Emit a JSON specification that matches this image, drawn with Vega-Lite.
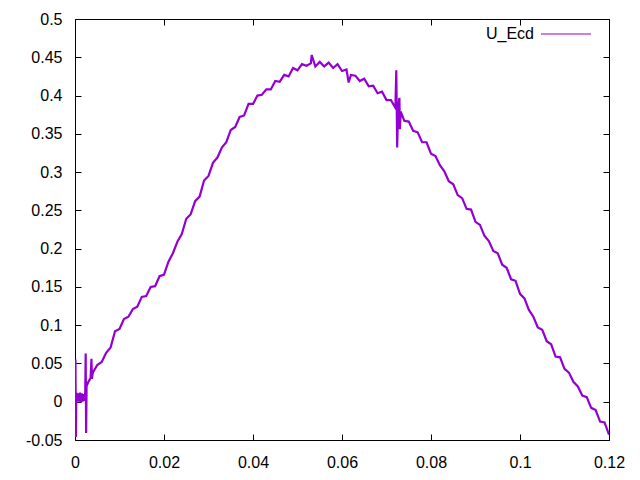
{
  "$schema": "https://vega.github.io/schema/vega-lite/v6.json",
  "width": 534,
  "height": 421,
  "autosize": {"type": "none"},
  "padding": {"left": 75, "top": 19, "right": 31, "bottom": 40},
  "background": "white",
  "config": {
    "view": {"stroke": "black", "strokeWidth": 1},
    "font": "Liberation Sans",
    "axis": {
      "domain": false,
      "grid": false,
      "ticks": true,
      "tickColor": "black",
      "tickSize": -6,
      "labelFontSize": 16,
      "labelColor": "black",
      "labelFont": "Liberation Sans",
      "labelFlush": false,
      "labelOverlap": false,
      "title": null
    }
  },
  "data": {
    "values": [
      {"x": 0.0001, "y": 0.055}, {"x": 0.0002, "y": -0.046}, {"x": 0.0003, "y": 0.012}, {"x": 0.0005, "y": 0.0},
      {"x": 0.0007, "y": 0.011}, {"x": 0.0009, "y": 0.0}, {"x": 0.0011, "y": 0.012}, {"x": 0.0013, "y": -0.001},
      {"x": 0.0015, "y": 0.011}, {"x": 0.0017, "y": 0.0}, {"x": 0.0019, "y": 0.01}, {"x": 0.0021, "y": 0.001},
      {"x": 0.0023, "y": 0.012}, {"x": 0.0024, "y": 0.063}, {"x": 0.0025, "y": -0.041}, {"x": 0.0026, "y": 0.02},
      {"x": 0.003, "y": 0.026}, {"x": 0.0035, "y": 0.031}, {"x": 0.0037, "y": 0.056}, {"x": 0.0038, "y": 0.03},
      {"x": 0.004, "y": 0.038},
      {"x": 0.005, "y": 0.048}, {"x": 0.006, "y": 0.052}, {"x": 0.007, "y": 0.064}, {"x": 0.008, "y": 0.071},
      {"x": 0.009, "y": 0.092}, {"x": 0.010, "y": 0.095}, {"x": 0.011, "y": 0.108}, {"x": 0.012, "y": 0.111},
      {"x": 0.013, "y": 0.121}, {"x": 0.014, "y": 0.124}, {"x": 0.015, "y": 0.137}, {"x": 0.016, "y": 0.138},
      {"x": 0.017, "y": 0.150}, {"x": 0.018, "y": 0.151}, {"x": 0.019, "y": 0.164}, {"x": 0.020, "y": 0.166},
      {"x": 0.021, "y": 0.183}, {"x": 0.022, "y": 0.194}, {"x": 0.023, "y": 0.209}, {"x": 0.024, "y": 0.219},
      {"x": 0.025, "y": 0.239}, {"x": 0.026, "y": 0.245}, {"x": 0.027, "y": 0.262}, {"x": 0.028, "y": 0.268},
      {"x": 0.029, "y": 0.289}, {"x": 0.030, "y": 0.295}, {"x": 0.031, "y": 0.312}, {"x": 0.032, "y": 0.319},
      {"x": 0.033, "y": 0.332}, {"x": 0.034, "y": 0.339}, {"x": 0.035, "y": 0.355}, {"x": 0.036, "y": 0.359},
      {"x": 0.037, "y": 0.372}, {"x": 0.038, "y": 0.374}, {"x": 0.039, "y": 0.389}, {"x": 0.040, "y": 0.389},
      {"x": 0.041, "y": 0.400}, {"x": 0.042, "y": 0.401}, {"x": 0.043, "y": 0.408}, {"x": 0.044, "y": 0.408},
      {"x": 0.045, "y": 0.419}, {"x": 0.046, "y": 0.418}, {"x": 0.047, "y": 0.427}, {"x": 0.048, "y": 0.425},
      {"x": 0.049, "y": 0.436}, {"x": 0.050, "y": 0.433}, {"x": 0.051, "y": 0.441}, {"x": 0.052, "y": 0.439},
      {"x": 0.053, "y": 0.442}, {"x": 0.0532, "y": 0.453}, {"x": 0.054, "y": 0.438}, {"x": 0.055, "y": 0.444},
      {"x": 0.056, "y": 0.438}, {"x": 0.057, "y": 0.443}, {"x": 0.058, "y": 0.436}, {"x": 0.059, "y": 0.441},
      {"x": 0.060, "y": 0.432}, {"x": 0.061, "y": 0.434}, {"x": 0.0615, "y": 0.417}, {"x": 0.062, "y": 0.427},
      {"x": 0.063, "y": 0.426}, {"x": 0.064, "y": 0.419}, {"x": 0.065, "y": 0.422}, {"x": 0.066, "y": 0.412},
      {"x": 0.067, "y": 0.413}, {"x": 0.068, "y": 0.403}, {"x": 0.069, "y": 0.405}, {"x": 0.070, "y": 0.394},
      {"x": 0.071, "y": 0.394}, {"x": 0.072, "y": 0.384}, {"x": 0.0722, "y": 0.433}, {"x": 0.0724, "y": 0.332},
      {"x": 0.0726, "y": 0.383}, {"x": 0.0729, "y": 0.397}, {"x": 0.0730, "y": 0.356}, {"x": 0.0732, "y": 0.379},
      {"x": 0.074, "y": 0.367}, {"x": 0.075, "y": 0.366}, {"x": 0.076, "y": 0.354}, {"x": 0.077, "y": 0.352},
      {"x": 0.078, "y": 0.339}, {"x": 0.079, "y": 0.339}, {"x": 0.080, "y": 0.324}, {"x": 0.081, "y": 0.321},
      {"x": 0.082, "y": 0.309}, {"x": 0.083, "y": 0.301}, {"x": 0.084, "y": 0.288}, {"x": 0.085, "y": 0.284},
      {"x": 0.086, "y": 0.270}, {"x": 0.087, "y": 0.266}, {"x": 0.088, "y": 0.252}, {"x": 0.089, "y": 0.251},
      {"x": 0.090, "y": 0.235}, {"x": 0.091, "y": 0.231}, {"x": 0.092, "y": 0.217}, {"x": 0.093, "y": 0.210},
      {"x": 0.094, "y": 0.197}, {"x": 0.095, "y": 0.194}, {"x": 0.096, "y": 0.179}, {"x": 0.097, "y": 0.175},
      {"x": 0.098, "y": 0.160}, {"x": 0.099, "y": 0.158}, {"x": 0.100, "y": 0.141}, {"x": 0.101, "y": 0.135},
      {"x": 0.102, "y": 0.120}, {"x": 0.103, "y": 0.111}, {"x": 0.104, "y": 0.097}, {"x": 0.105, "y": 0.094},
      {"x": 0.106, "y": 0.079}, {"x": 0.107, "y": 0.075}, {"x": 0.108, "y": 0.059}, {"x": 0.109, "y": 0.058},
      {"x": 0.110, "y": 0.043}, {"x": 0.111, "y": 0.038}, {"x": 0.112, "y": 0.026}, {"x": 0.113, "y": 0.020},
      {"x": 0.114, "y": 0.008}, {"x": 0.115, "y": 0.006}, {"x": 0.116, "y": -0.008}, {"x": 0.117, "y": -0.011},
      {"x": 0.118, "y": -0.026}, {"x": 0.119, "y": -0.027}, {"x": 0.120, "y": -0.043}
    ]
  },
  "layer": [
    {
      "mark": {"type": "line", "strokeWidth": 2.2, "strokeJoin": "miter", "clip": true},
      "encoding": {
        "x": {
          "field": "x", "type": "quantitative",
          "scale": {"domain": [0, 0.12], "nice": false, "zero": false},
          "axis": {"orient": "bottom", "values": [0, 0.02, 0.04, 0.06, 0.08, 0.1, 0.12], "labelExpr": "datum.value + ''", "labelPadding": 20}
        },
        "y": {
          "field": "y", "type": "quantitative",
          "scale": {"domain": [-0.05, 0.5], "nice": false, "zero": false},
          "axis": {"orient": "left", "values": [-0.05, 0, 0.05, 0.1, 0.15, 0.2, 0.25, 0.3, 0.35, 0.4, 0.45, 0.5], "labelExpr": "datum.value + ''", "labelPadding": 19}
        },
        "color": {
          "datum": "U_Ecd", "type": "nominal",
          "scale": {"range": ["#9400D3"]},
          "legend": {
            "title": null, "orient": "none", "legendX": 465, "legendY": -11,
            "symbolType": "stroke", "symbolSize": 2500, "symbolStrokeWidth": 1.2,
            "symbolStrokeColor": "#9400D3",
            "labelAlign": "right", "labelOffset": -58, "labelFontSize": 16, "labelColor": "black",
            "labelFont": "Liberation Sans", "padding": 0
          }
        }
      }
    },
    {
      "mark": {"type": "line", "opacity": 0},
      "encoding": {
        "x": {
          "field": "x", "type": "quantitative",
          "axis": {"orient": "top", "values": [0, 0.02, 0.04, 0.06, 0.08, 0.1, 0.12], "labels": false}
        },
        "y": {
          "field": "y", "type": "quantitative",
          "axis": {"orient": "right", "values": [-0.05, 0, 0.05, 0.1, 0.15, 0.2, 0.25, 0.3, 0.35, 0.4, 0.45, 0.5], "labels": false}
        }
      }
    }
  ],
  "resolve": {"axis": {"x": "independent", "y": "independent"}}
}
